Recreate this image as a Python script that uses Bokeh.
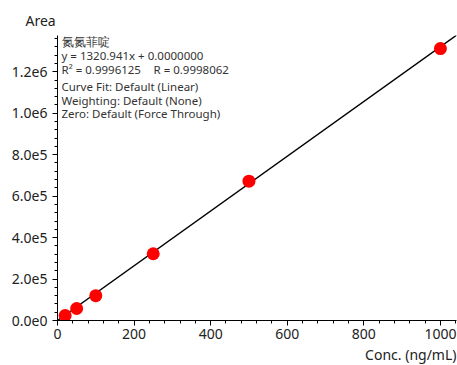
import numpy as np
from bokeh.plotting import figure
from bokeh.models import Label, FixedTicker, Range1d, Title
from bokeh.embed import file_html
from bokeh.resources import INLINE

# data
conc = [20, 50, 100, 250, 500, 1000]
area = [24000, 58000, 120000, 322000, 672000, 1312000]
slope = 1320.941
intercept = 0.0
x_ticks = [0, 200, 400, 600, 800, 1000]
y_ticks = [0, 200000, 400000, 600000, 800000, 1000000, 1200000]
y_tick_labels = ["0.0e0", "2.0e5", "4.0e5", "6.0e5", "8.0e5", "1.0e6", "1.2e6"]
info_lines = ["氮氮菲啶", "y = 1320.941x + 0.0000000", "R² = 0.9996125",
              "Curve Fit: Default (Linear)", "Weighting: Default (None)",
              "Zero: Default (Force Through)"]
r_text = "R = 0.9998062"
y_title = "Area"
x_title = "Conc. (ng/mL)"

FONT = "Noto Sans"
X_MAX = 1042
Y_MAX = 1375000

p = figure(width=457, height=365, output_backend="svg", toolbar_location=None,
           x_range=Range1d(0, X_MAX), y_range=Range1d(0, Y_MAX),
           min_border_left=57, min_border_right=1, min_border_top=35,
           min_border_bottom=44)
p.outline_line_color = None
p.grid.visible = False
p.background_fill_color = "white"

p.title.text = y_title
p.title.align = "left"
p.title.offset = -32
p.title.text_font = FONT
p.title.text_font_size = "14px"
p.title.text_font_style = "normal"
p.title.text_color = "#222222"
p.title.standoff = 12

xt = Title(text=x_title, align="right", text_font=FONT, text_font_size="14px",
           text_font_style="normal", text_color="#222222", standoff=3, offset=0)
p.add_layout(xt, "below")

fit_x = np.array([0, X_MAX * 1.1])
fit_y = slope * fit_x + intercept
p.line(fit_x, fit_y, line_color="black", line_width=1.4)
p.scatter(conc, area, size=13, fill_color="#ff0000", line_color=None)

x_minor = list(np.arange(0, X_MAX + 1, 40))
y_minor = list(np.arange(0, Y_MAX + 1, 40000))
p.xaxis.ticker = FixedTicker(ticks=x_ticks, minor_ticks=x_minor)
p.yaxis.ticker = FixedTicker(ticks=y_ticks, minor_ticks=y_minor)
p.yaxis.major_label_overrides = {t: l for t, l in zip(y_ticks, y_tick_labels)}

for ax in (p.xaxis, p.yaxis):
    ax.major_label_text_font = FONT
    ax.major_label_text_font_size = "14px"
    ax.major_label_text_color = "#222222"
    ax.major_tick_out = 5
    ax.major_tick_in = 0
    ax.minor_tick_out = 3
    ax.minor_tick_in = 0
    ax.axis_line_color = "black"
    ax.major_tick_line_color = "black"
    ax.minor_tick_line_color = "black"
p.xaxis.major_label_standoff = 3
p.yaxis.major_label_standoff = 5
p.yaxis.major_label_orientation = "horizontal"

line_y = [279, 265, 251, 234, 220, 207]
for t, yy in zip(info_lines, line_y):
    p.add_layout(Label(x=4, y=yy, x_units="screen", y_units="screen", text=t,
                       text_font=FONT, text_font_size="11.5px", text_color="#333333",
                       text_baseline="middle"))
p.add_layout(Label(x=96, y=251, x_units="screen", y_units="screen", text=r_text,
                   text_font=FONT, text_font_size="11.5px", text_color="#333333",
                   text_baseline="middle"))

html = file_html(p, INLINE)
open("out.html", "w").write(html)
